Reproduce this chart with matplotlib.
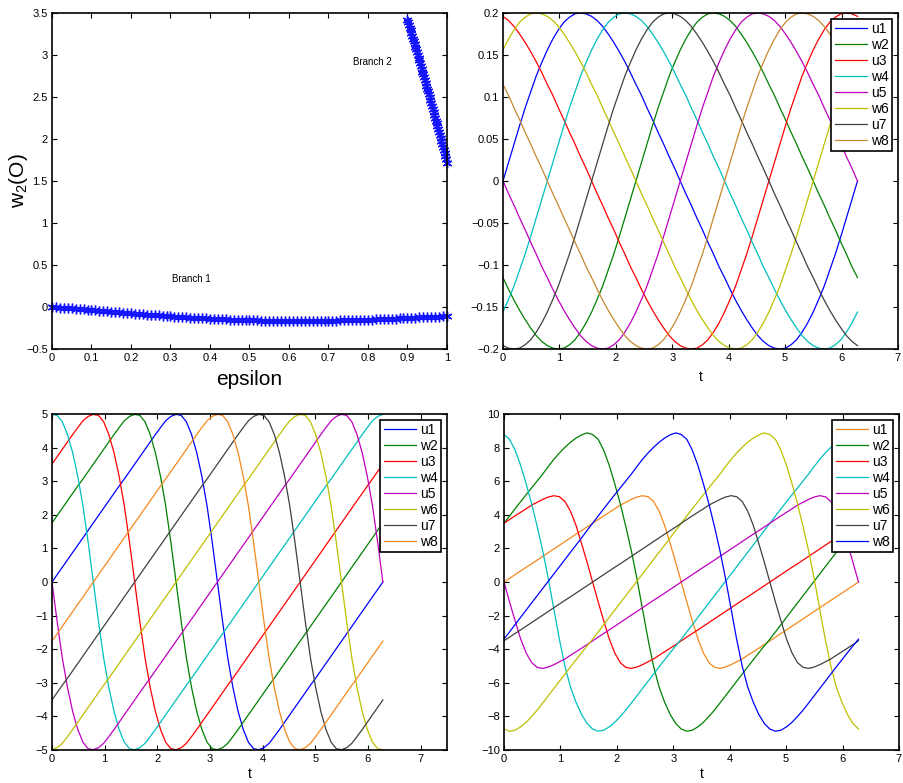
import numpy as np
import matplotlib
matplotlib.use('Agg')
import matplotlib.pyplot as plt
from matplotlib import font_manager

names = set(f.name for f in font_manager.fontManager.ttflist)
FONT = 'Liberation Sans Narrow' if 'Liberation Sans Narrow' in names else 'Liberation Sans'
plt.rcParams['font.family'] = [FONT, 'DejaVu Sans']
plt.rcParams['mathtext.default'] = 'regular'

# ---- top left: w2(0) against epsilon, two branches
eps1 = [0.00, 0.01, 0.02, 0.03, 0.04, 0.05, 0.06, 0.07, 0.08, 0.09,
        0.10, 0.11, 0.12, 0.13, 0.14, 0.15, 0.16, 0.17, 0.18, 0.19,
        0.20, 0.21, 0.22, 0.23, 0.24, 0.25, 0.26, 0.27, 0.28, 0.29,
        0.30, 0.31, 0.32, 0.33, 0.34, 0.35, 0.36, 0.37, 0.38, 0.39,
        0.40, 0.41, 0.42, 0.43, 0.44, 0.45, 0.46, 0.47, 0.48, 0.49,
        0.50, 0.51, 0.52, 0.53, 0.54, 0.55, 0.56, 0.57, 0.58, 0.59,
        0.60, 0.61, 0.62, 0.63, 0.64, 0.65, 0.66, 0.67, 0.68, 0.69,
        0.70, 0.71, 0.72, 0.73, 0.74, 0.75, 0.76, 0.77, 0.78, 0.79,
        0.80, 0.81, 0.82, 0.83, 0.84, 0.85, 0.86, 0.87, 0.88, 0.89,
        0.90, 0.91, 0.92, 0.93, 0.94, 0.95, 0.96, 0.97, 0.98, 0.99, 1.00]
branch1 = [0.000, -0.004, -0.007, -0.011, -0.014, -0.018, -0.022, -0.025, -0.029, -0.032,
           -0.036, -0.040, -0.044, -0.048, -0.052, -0.056, -0.060, -0.064, -0.067, -0.071,
           -0.075, -0.079, -0.083, -0.087, -0.090, -0.094, -0.097, -0.101, -0.104, -0.108,
           -0.111, -0.114, -0.117, -0.120, -0.123, -0.126, -0.129, -0.131, -0.134, -0.136,
           -0.139, -0.141, -0.143, -0.146, -0.148, -0.150, -0.152, -0.153, -0.155, -0.156,
           -0.158, -0.159, -0.160, -0.161, -0.162, -0.163, -0.164, -0.165, -0.165, -0.166,
           -0.166, -0.166, -0.166, -0.166, -0.166, -0.166, -0.166, -0.165, -0.165, -0.164,
           -0.163, -0.162, -0.161, -0.160, -0.159, -0.158, -0.157, -0.155, -0.154, -0.152,
           -0.151, -0.149, -0.147, -0.146, -0.144, -0.142, -0.140, -0.138, -0.136, -0.134,
           -0.132, -0.130, -0.128, -0.125, -0.123, -0.121, -0.119, -0.116, -0.114, -0.111, -0.109]

eps2 = [0.900, 0.902, 0.904, 0.906, 0.908, 0.910, 0.912, 0.914, 0.916, 0.918,
        0.920, 0.922, 0.924, 0.926, 0.928, 0.930, 0.932, 0.934, 0.936, 0.938,
        0.940, 0.942, 0.944, 0.946, 0.948, 0.950, 0.952, 0.954, 0.956, 0.958,
        0.960, 0.962, 0.964, 0.966, 0.968, 0.970, 0.972, 0.974, 0.976, 0.978,
        0.980, 0.982, 0.984, 0.986, 0.988, 0.990, 0.992, 0.994, 0.996, 0.998, 1.000]
branch2 = [3.420, 3.388, 3.357, 3.325, 3.293, 3.261, 3.229, 3.196, 3.164, 3.132,
           3.099, 3.067, 3.034, 3.001, 2.968, 2.935, 2.902, 2.869, 2.836, 2.802,
           2.769, 2.735, 2.702, 2.668, 2.634, 2.600, 2.566, 2.532, 2.498, 2.463,
           2.429, 2.394, 2.360, 2.325, 2.290, 2.255, 2.220, 2.185, 2.150, 2.115,
           2.079, 2.044, 2.008, 1.972, 1.937, 1.901, 1.865, 1.829, 1.793, 1.756, 1.720]

# ---- time samples over one period, shared by the three other panels
t = [0.0000, 0.0982, 0.1963, 0.2945, 0.3927, 0.4909, 0.5890, 0.6872,
     0.7854, 0.8836, 0.9817, 1.0799, 1.1781, 1.2763, 1.3744, 1.4726,
     1.5708, 1.6690, 1.7671, 1.8653, 1.9635, 2.0617, 2.1598, 2.2580,
     2.3562, 2.4544, 2.5525, 2.6507, 2.7489, 2.8471, 2.9452, 3.0434,
     3.1416, 3.2398, 3.3379, 3.4361, 3.5343, 3.6325, 3.7306, 3.8288,
     3.9270, 4.0252, 4.1233, 4.2215, 4.3197, 4.4179, 4.5160, 4.6142,
     4.7124, 4.8106, 4.9087, 5.0069, 5.1051, 5.2033, 5.3014, 5.3996,
     5.4978, 5.5960, 5.6941, 5.7923, 5.8905, 5.9887, 6.0868, 6.1850,
     6.2832]

# ---- top right
tr_u1 = [0.000, 0.022, 0.044, 0.066, 0.087, 0.106, 0.125, 0.141,
         0.156, 0.169, 0.180, 0.189, 0.195, 0.199, 0.200, 0.199,
         0.196, 0.191, 0.184, 0.175, 0.165, 0.154, 0.142, 0.129,
         0.115, 0.102, 0.087, 0.073, 0.058, 0.044, 0.029, 0.015,
         0.000, -0.015, -0.029, -0.044, -0.058, -0.073, -0.087, -0.102,
         -0.115, -0.129, -0.142, -0.154, -0.165, -0.175, -0.184, -0.191,
         -0.196, -0.199, -0.200, -0.199, -0.195, -0.189, -0.180, -0.169,
         -0.156, -0.141, -0.125, -0.106, -0.087, -0.066, -0.044, -0.022,
         0.000]
tr_w2 = [-0.115, -0.129, -0.142, -0.154, -0.165, -0.175, -0.184, -0.191,
         -0.196, -0.199, -0.200, -0.199, -0.195, -0.189, -0.180, -0.169,
         -0.156, -0.141, -0.125, -0.106, -0.087, -0.066, -0.044, -0.022,
         0.000, 0.022, 0.044, 0.066, 0.087, 0.106, 0.125, 0.141,
         0.156, 0.169, 0.180, 0.189, 0.195, 0.199, 0.200, 0.199,
         0.196, 0.191, 0.184, 0.175, 0.165, 0.154, 0.142, 0.129,
         0.115, 0.102, 0.087, 0.073, 0.058, 0.044, 0.029, 0.015,
         0.000, -0.015, -0.029, -0.044, -0.058, -0.073, -0.087, -0.102,
         -0.115]
tr_u3 = [0.196, 0.191, 0.184, 0.175, 0.165, 0.154, 0.142, 0.129,
         0.115, 0.102, 0.087, 0.073, 0.058, 0.044, 0.029, 0.015,
         0.000, -0.015, -0.029, -0.044, -0.058, -0.073, -0.087, -0.102,
         -0.115, -0.129, -0.142, -0.154, -0.165, -0.175, -0.184, -0.191,
         -0.196, -0.199, -0.200, -0.199, -0.195, -0.189, -0.180, -0.169,
         -0.156, -0.141, -0.125, -0.106, -0.087, -0.066, -0.044, -0.022,
         0.000, 0.022, 0.044, 0.066, 0.087, 0.106, 0.125, 0.141,
         0.156, 0.169, 0.180, 0.189, 0.195, 0.199, 0.200, 0.199,
         0.196]
tr_w4 = [-0.156, -0.141, -0.125, -0.106, -0.087, -0.066, -0.044, -0.022,
         0.000, 0.022, 0.044, 0.066, 0.087, 0.106, 0.125, 0.141,
         0.156, 0.169, 0.180, 0.189, 0.195, 0.199, 0.200, 0.199,
         0.196, 0.191, 0.184, 0.175, 0.165, 0.154, 0.142, 0.129,
         0.115, 0.102, 0.087, 0.073, 0.058, 0.044, 0.029, 0.015,
         0.000, -0.015, -0.029, -0.044, -0.058, -0.073, -0.087, -0.102,
         -0.115, -0.129, -0.142, -0.154, -0.165, -0.175, -0.184, -0.191,
         -0.196, -0.199, -0.200, -0.199, -0.195, -0.189, -0.180, -0.169,
         -0.156]
tr_u5 = [0.000, -0.015, -0.029, -0.044, -0.058, -0.073, -0.087, -0.102,
         -0.115, -0.129, -0.142, -0.154, -0.165, -0.175, -0.184, -0.191,
         -0.196, -0.199, -0.200, -0.199, -0.195, -0.189, -0.180, -0.169,
         -0.156, -0.141, -0.125, -0.106, -0.087, -0.066, -0.044, -0.022,
         0.000, 0.022, 0.044, 0.066, 0.087, 0.106, 0.125, 0.141,
         0.156, 0.169, 0.180, 0.189, 0.195, 0.199, 0.200, 0.199,
         0.196, 0.191, 0.184, 0.175, 0.165, 0.154, 0.142, 0.129,
         0.115, 0.102, 0.087, 0.073, 0.058, 0.044, 0.029, 0.015,
         0.000]
tr_w6 = [0.156, 0.169, 0.180, 0.189, 0.195, 0.199, 0.200, 0.199,
         0.196, 0.191, 0.184, 0.175, 0.165, 0.154, 0.142, 0.129,
         0.115, 0.102, 0.087, 0.073, 0.058, 0.044, 0.029, 0.015,
         0.000, -0.015, -0.029, -0.044, -0.058, -0.073, -0.087, -0.102,
         -0.115, -0.129, -0.142, -0.154, -0.165, -0.175, -0.184, -0.191,
         -0.196, -0.199, -0.200, -0.199, -0.195, -0.189, -0.180, -0.169,
         -0.156, -0.141, -0.125, -0.106, -0.087, -0.066, -0.044, -0.022,
         0.000, 0.022, 0.044, 0.066, 0.087, 0.106, 0.125, 0.141,
         0.156]
tr_u7 = [-0.196, -0.199, -0.200, -0.199, -0.195, -0.189, -0.180, -0.169,
         -0.156, -0.141, -0.125, -0.106, -0.087, -0.066, -0.044, -0.022,
         0.000, 0.022, 0.044, 0.066, 0.087, 0.106, 0.125, 0.141,
         0.156, 0.169, 0.180, 0.189, 0.195, 0.199, 0.200, 0.199,
         0.196, 0.191, 0.184, 0.175, 0.165, 0.154, 0.142, 0.129,
         0.115, 0.102, 0.087, 0.073, 0.058, 0.044, 0.029, 0.015,
         0.000, -0.015, -0.029, -0.044, -0.058, -0.073, -0.087, -0.102,
         -0.115, -0.129, -0.142, -0.154, -0.165, -0.175, -0.184, -0.191,
         -0.196]
tr_w8 = [0.115, 0.102, 0.087, 0.073, 0.058, 0.044, 0.029, 0.015,
         0.000, -0.015, -0.029, -0.044, -0.058, -0.073, -0.087, -0.102,
         -0.115, -0.129, -0.142, -0.154, -0.165, -0.175, -0.184, -0.191,
         -0.196, -0.199, -0.200, -0.199, -0.195, -0.189, -0.180, -0.169,
         -0.156, -0.141, -0.125, -0.106, -0.087, -0.066, -0.044, -0.022,
         0.000, 0.022, 0.044, 0.066, 0.087, 0.106, 0.125, 0.141,
         0.156, 0.169, 0.180, 0.189, 0.195, 0.199, 0.200, 0.199,
         0.196, 0.191, 0.184, 0.175, 0.165, 0.154, 0.142, 0.129,
         0.115]

# ---- bottom left
bl_u1 = [0.00, 0.22, 0.44, 0.66, 0.88, 1.10, 1.32, 1.54,
         1.76, 1.98, 2.20, 2.42, 2.64, 2.86, 3.07, 3.29,
         3.51, 3.73, 3.95, 4.17, 4.39, 4.60, 4.80, 4.93,
         4.99, 4.96, 4.77, 4.39, 3.85, 3.14, 2.26, 1.18,
         0.00, -1.18, -2.26, -3.14, -3.85, -4.39, -4.77, -4.96,
         -4.99, -4.93, -4.80, -4.60, -4.39, -4.17, -3.95, -3.73,
         -3.51, -3.29, -3.07, -2.86, -2.64, -2.42, -2.20, -1.98,
         -1.76, -1.54, -1.32, -1.10, -0.88, -0.66, -0.44, -0.22,
         0.00]
bl_w2 = [1.76, 1.98, 2.20, 2.42, 2.64, 2.86, 3.07, 3.29,
         3.51, 3.73, 3.95, 4.17, 4.39, 4.60, 4.80, 4.93,
         4.99, 4.96, 4.77, 4.39, 3.85, 3.14, 2.26, 1.18,
         0.00, -1.18, -2.26, -3.14, -3.85, -4.39, -4.77, -4.96,
         -4.99, -4.93, -4.80, -4.60, -4.39, -4.17, -3.95, -3.73,
         -3.51, -3.29, -3.07, -2.86, -2.64, -2.42, -2.20, -1.98,
         -1.76, -1.54, -1.32, -1.10, -0.88, -0.66, -0.44, -0.22,
         0.00, 0.22, 0.44, 0.66, 0.88, 1.10, 1.32, 1.54,
         1.76]
bl_u3 = [3.51, 3.73, 3.95, 4.17, 4.39, 4.60, 4.80, 4.93,
         4.99, 4.96, 4.77, 4.39, 3.85, 3.14, 2.26, 1.18,
         0.00, -1.18, -2.26, -3.14, -3.85, -4.39, -4.77, -4.96,
         -4.99, -4.93, -4.80, -4.60, -4.39, -4.17, -3.95, -3.73,
         -3.51, -3.29, -3.07, -2.86, -2.64, -2.42, -2.20, -1.98,
         -1.76, -1.54, -1.32, -1.10, -0.88, -0.66, -0.44, -0.22,
         0.00, 0.22, 0.44, 0.66, 0.88, 1.10, 1.32, 1.54,
         1.76, 1.98, 2.20, 2.42, 2.64, 2.86, 3.07, 3.29,
         3.51]
bl_w4 = [4.99, 4.96, 4.77, 4.39, 3.85, 3.14, 2.26, 1.18,
         0.00, -1.18, -2.26, -3.14, -3.85, -4.39, -4.77, -4.96,
         -4.99, -4.93, -4.80, -4.60, -4.39, -4.17, -3.95, -3.73,
         -3.51, -3.29, -3.07, -2.86, -2.64, -2.42, -2.20, -1.98,
         -1.76, -1.54, -1.32, -1.10, -0.88, -0.66, -0.44, -0.22,
         0.00, 0.22, 0.44, 0.66, 0.88, 1.10, 1.32, 1.54,
         1.76, 1.98, 2.20, 2.42, 2.64, 2.86, 3.07, 3.29,
         3.51, 3.73, 3.95, 4.17, 4.39, 4.60, 4.80, 4.93,
         4.99]
bl_u5 = [0.00, -1.18, -2.26, -3.14, -3.85, -4.39, -4.77, -4.96,
         -4.99, -4.93, -4.80, -4.60, -4.39, -4.17, -3.95, -3.73,
         -3.51, -3.29, -3.07, -2.86, -2.64, -2.42, -2.20, -1.98,
         -1.76, -1.54, -1.32, -1.10, -0.88, -0.66, -0.44, -0.22,
         0.00, 0.22, 0.44, 0.66, 0.88, 1.10, 1.32, 1.54,
         1.76, 1.98, 2.20, 2.42, 2.64, 2.86, 3.07, 3.29,
         3.51, 3.73, 3.95, 4.17, 4.39, 4.60, 4.80, 4.93,
         4.99, 4.96, 4.77, 4.39, 3.85, 3.14, 2.26, 1.18,
         0.00]
bl_w6 = [-4.99, -4.93, -4.80, -4.60, -4.39, -4.17, -3.95, -3.73,
         -3.51, -3.29, -3.07, -2.86, -2.64, -2.42, -2.20, -1.98,
         -1.76, -1.54, -1.32, -1.10, -0.88, -0.66, -0.44, -0.22,
         0.00, 0.22, 0.44, 0.66, 0.88, 1.10, 1.32, 1.54,
         1.76, 1.98, 2.20, 2.42, 2.64, 2.86, 3.07, 3.29,
         3.51, 3.73, 3.95, 4.17, 4.39, 4.60, 4.80, 4.93,
         4.99, 4.96, 4.77, 4.39, 3.85, 3.14, 2.26, 1.18,
         0.00, -1.18, -2.26, -3.14, -3.85, -4.39, -4.77, -4.96,
         -4.99]
bl_u7 = [-3.51, -3.29, -3.07, -2.86, -2.64, -2.42, -2.20, -1.98,
         -1.76, -1.54, -1.32, -1.10, -0.88, -0.66, -0.44, -0.22,
         0.00, 0.22, 0.44, 0.66, 0.88, 1.10, 1.32, 1.54,
         1.76, 1.98, 2.20, 2.42, 2.64, 2.86, 3.07, 3.29,
         3.51, 3.73, 3.95, 4.17, 4.39, 4.60, 4.80, 4.93,
         4.99, 4.96, 4.77, 4.39, 3.85, 3.14, 2.26, 1.18,
         0.00, -1.18, -2.26, -3.14, -3.85, -4.39, -4.77, -4.96,
         -4.99, -4.93, -4.80, -4.60, -4.39, -4.17, -3.95, -3.73,
         -3.51]
bl_w8 = [-1.76, -1.54, -1.32, -1.10, -0.88, -0.66, -0.44, -0.22,
         0.00, 0.22, 0.44, 0.66, 0.88, 1.10, 1.32, 1.54,
         1.76, 1.98, 2.20, 2.42, 2.64, 2.86, 3.07, 3.29,
         3.51, 3.73, 3.95, 4.17, 4.39, 4.60, 4.80, 4.93,
         4.99, 4.96, 4.77, 4.39, 3.85, 3.14, 2.26, 1.18,
         0.00, -1.18, -2.26, -3.14, -3.85, -4.39, -4.77, -4.96,
         -4.99, -4.93, -4.80, -4.60, -4.39, -4.17, -3.95, -3.73,
         -3.51, -3.29, -3.07, -2.86, -2.64, -2.42, -2.20, -1.98,
         -1.76]

# ---- bottom right
br_u1 = [0.00, 0.22, 0.44, 0.66, 0.88, 1.09, 1.31, 1.53,
         1.75, 1.97, 2.19, 2.41, 2.63, 2.85, 3.06, 3.28,
         3.50, 3.72, 3.94, 4.15, 4.36, 4.58, 4.75, 4.92,
         5.06, 5.14, 5.08, 4.80, 4.22, 3.38, 2.30, 1.18,
         0.00, -1.18, -2.30, -3.38, -4.22, -4.80, -5.08, -5.14,
         -5.06, -4.92, -4.75, -4.58, -4.36, -4.15, -3.94, -3.72,
         -3.50, -3.28, -3.06, -2.85, -2.63, -2.41, -2.19, -1.97,
         -1.75, -1.53, -1.31, -1.09, -0.88, -0.66, -0.44, -0.22,
         0.00]
br_u3 = [3.50, 3.72, 3.94, 4.15, 4.36, 4.58, 4.75, 4.92,
         5.06, 5.14, 5.08, 4.80, 4.22, 3.38, 2.30, 1.18,
         0.00, -1.18, -2.30, -3.38, -4.22, -4.80, -5.08, -5.14,
         -5.06, -4.92, -4.75, -4.58, -4.36, -4.15, -3.94, -3.72,
         -3.50, -3.28, -3.06, -2.85, -2.63, -2.41, -2.19, -1.97,
         -1.75, -1.53, -1.31, -1.09, -0.88, -0.66, -0.44, -0.22,
         0.00, 0.22, 0.44, 0.66, 0.88, 1.09, 1.31, 1.53,
         1.75, 1.97, 2.19, 2.41, 2.63, 2.85, 3.06, 3.28,
         3.50]
br_u5 = [0.00, -1.18, -2.30, -3.38, -4.22, -4.80, -5.08, -5.14,
         -5.06, -4.92, -4.75, -4.58, -4.36, -4.15, -3.94, -3.72,
         -3.50, -3.28, -3.06, -2.85, -2.63, -2.41, -2.19, -1.97,
         -1.75, -1.53, -1.31, -1.09, -0.88, -0.66, -0.44, -0.22,
         0.00, 0.22, 0.44, 0.66, 0.88, 1.09, 1.31, 1.53,
         1.75, 1.97, 2.19, 2.41, 2.63, 2.85, 3.06, 3.28,
         3.50, 3.72, 3.94, 4.15, 4.36, 4.58, 4.75, 4.92,
         5.06, 5.14, 5.08, 4.80, 4.22, 3.38, 2.30, 1.18,
         0.00]
br_u7 = [-3.50, -3.28, -3.06, -2.85, -2.63, -2.41, -2.19, -1.97,
         -1.75, -1.53, -1.31, -1.09, -0.88, -0.66, -0.44, -0.22,
         0.00, 0.22, 0.44, 0.66, 0.88, 1.09, 1.31, 1.53,
         1.75, 1.97, 2.19, 2.41, 2.63, 2.85, 3.06, 3.28,
         3.50, 3.72, 3.94, 4.15, 4.36, 4.58, 4.75, 4.92,
         5.06, 5.14, 5.08, 4.80, 4.22, 3.38, 2.30, 1.18,
         0.00, -1.18, -2.30, -3.38, -4.22, -4.80, -5.08, -5.14,
         -5.06, -4.92, -4.75, -4.58, -4.36, -4.15, -3.94, -3.72,
         -3.50]
br_w8 = [-3.40, -2.97, -2.54, -2.10, -1.67, -1.24, -0.81, -0.38,
         0.05, 0.48, 0.91, 1.34, 1.77, 2.20, 2.63, 3.07,
         3.50, 3.93, 4.36, 4.78, 5.20, 5.61, 6.02, 6.43,
         6.88, 7.30, 7.68, 8.02, 8.32, 8.57, 8.76, 8.88,
         8.78, 8.50, 7.85, 6.95, 5.85, 4.65, 3.30, 1.85,
         0.20, -1.60, -3.40, -5.00, -6.25, -7.15, -7.88, -8.42,
         -8.75, -8.88, -8.82, -8.62, -8.35, -8.00, -7.62, -7.20,
         -6.77, -6.34, -5.91, -5.48, -5.05, -4.63, -4.21, -3.80,
         -3.40]
br_w2 = [3.50, 3.93, 4.36, 4.78, 5.20, 5.61, 6.02, 6.43,
         6.88, 7.30, 7.68, 8.02, 8.32, 8.57, 8.76, 8.88,
         8.78, 8.50, 7.85, 6.95, 5.85, 4.65, 3.30, 1.85,
         0.20, -1.60, -3.40, -5.00, -6.25, -7.15, -7.88, -8.42,
         -8.75, -8.88, -8.82, -8.62, -8.35, -8.00, -7.62, -7.20,
         -6.77, -6.34, -5.91, -5.48, -5.05, -4.63, -4.21, -3.80,
         -3.40, -2.97, -2.54, -2.10, -1.67, -1.24, -0.81, -0.38,
         0.05, 0.48, 0.91, 1.34, 1.77, 2.20, 2.63, 3.07,
         3.50]
br_w4 = [8.78, 8.50, 7.85, 6.95, 5.85, 4.65, 3.30, 1.85,
         0.20, -1.60, -3.40, -5.00, -6.25, -7.15, -7.88, -8.42,
         -8.75, -8.88, -8.82, -8.62, -8.35, -8.00, -7.62, -7.20,
         -6.77, -6.34, -5.91, -5.48, -5.05, -4.63, -4.21, -3.80,
         -3.40, -2.97, -2.54, -2.10, -1.67, -1.24, -0.81, -0.38,
         0.05, 0.48, 0.91, 1.34, 1.77, 2.20, 2.63, 3.07,
         3.50, 3.93, 4.36, 4.78, 5.20, 5.61, 6.02, 6.43,
         6.88, 7.30, 7.68, 8.02, 8.32, 8.57, 8.76, 8.88,
         8.78]
br_w6 = [-8.75, -8.88, -8.82, -8.62, -8.35, -8.00, -7.62, -7.20,
         -6.77, -6.34, -5.91, -5.48, -5.05, -4.63, -4.21, -3.80,
         -3.40, -2.97, -2.54, -2.10, -1.67, -1.24, -0.81, -0.38,
         0.05, 0.48, 0.91, 1.34, 1.77, 2.20, 2.63, 3.07,
         3.50, 3.93, 4.36, 4.78, 5.20, 5.61, 6.02, 6.43,
         6.88, 7.30, 7.68, 8.02, 8.32, 8.57, 8.76, 8.88,
         8.78, 8.50, 7.85, 6.95, 5.85, 4.65, 3.30, 1.85,
         0.20, -1.60, -3.40, -5.00, -6.25, -7.15, -7.88, -8.42,
         -8.75]

names8 = ['u1', 'w2', 'u3', 'w4', 'u5', 'w6', 'u7', 'w8']

BLUE = (0, 0, 1)
GREEN = (0, 0.5, 0)
RED = (1, 0, 0)
CYAN = (0, 0.75, 0.75)
MAGENTA = (0.75, 0, 0.75)
YELLOW = (0.75, 0.75, 0)
GREY = (0.25, 0.25, 0.25)
BROWN = '#c8882e'
ORANGE = '#f5891c'


def fmt(v):
    s = '%g' % v
    if s == '-0':
        s = '0'
    return s.replace('-', '\u2212')


def style(ax, xlim, ylim, xticks, yticks):
    ax.set_xlim(xlim)
    ax.set_ylim(ylim)
    ax.set_xticks(xticks)
    ax.set_yticks(yticks)
    ax.set_xticklabels([fmt(v) for v in xticks])
    ax.set_yticklabels([fmt(v) for v in yticks])
    ax.tick_params(direction='in', top=True, right=True, length=3.5, width=0.8,
                   labelsize=8, pad=3)
    for s in ax.spines.values():
        s.set_linewidth(1.2)


def add_legend(ax):
    leg = ax.legend(loc='upper right', fontsize=10, handlelength=2.3, handletextpad=0.3,
                    labelspacing=0.14, borderpad=0.25, borderaxespad=0.42,
                    fancybox=False, framealpha=1, edgecolor='black')
    leg.get_frame().set_linewidth(1.2)


fig = plt.figure(figsize=(9.04, 7.83), dpi=100)
ax_tl = fig.add_axes([0.0575, 0.5543, 0.4369, 0.4291])
ax_tr = fig.add_axes([0.5564, 0.5543, 0.4369, 0.4291])
ax_bl = fig.add_axes([0.0575, 0.0421, 0.4369, 0.4291])
ax_br = fig.add_axes([0.5575, 0.0421, 0.4369, 0.4291])

# top left
star = (6, 2, 0)
ax_tl.plot(eps1, branch1, linestyle='none', marker=star, ms=7, mew=1.0, color='#1414ff', clip_on=False)
ax_tl.plot(eps2, branch2, linestyle='none', marker=star, ms=7, mew=1.0, color='#1414ff', clip_on=False)
ax_tl.text(0.305, 0.33, 'Branch 1', fontsize=7, va='center')
ax_tl.text(0.762, 2.92, 'Branch 2', fontsize=7, va='center')
style(ax_tl, (0, 1), (-0.5, 3.5),
      [0, 0.1, 0.2, 0.3, 0.4, 0.5, 0.6, 0.7, 0.8, 0.9, 1],
      [-0.5, 0, 0.5, 1, 1.5, 2, 2.5, 3, 3.5])
ax_tl.set_xlabel('epsilon', fontsize=15, labelpad=5)
ax_tl.set_ylabel(r'w$_2$(O)', fontsize=15, labelpad=-3)

# top right
tr_series = [tr_u1, tr_w2, tr_u3, tr_w4, tr_u5, tr_w6, tr_u7, tr_w8]
tr_colors = [BLUE, GREEN, RED, CYAN, MAGENTA, YELLOW, GREY, BROWN]
for name, y, c in zip(names8, tr_series, tr_colors):
    ax_tr.plot(t, y, color=c, lw=0.9, label=name)
style(ax_tr, (0, 7), (-0.2, 0.2), [0, 1, 2, 3, 4, 5, 6, 7],
      [-0.2, -0.15, -0.1, -0.05, 0, 0.05, 0.1, 0.15, 0.2])
ax_tr.set_xlabel('t', fontsize=10, labelpad=5)
add_legend(ax_tr)

# bottom left
bl_series = [bl_u1, bl_w2, bl_u3, bl_w4, bl_u5, bl_w6, bl_u7, bl_w8]
bl_colors = [BLUE, GREEN, RED, CYAN, MAGENTA, YELLOW, GREY, ORANGE]
for name, y, c in zip(names8, bl_series, bl_colors):
    ax_bl.plot(t, y, color=c, lw=0.9, label=name)
style(ax_bl, (0, 7.5), (-5, 5), [0, 1, 2, 3, 4, 5, 6, 7],
      [-5, -4, -3, -2, -1, 0, 1, 2, 3, 4, 5])
ax_bl.set_xlabel('t', fontsize=10, labelpad=2)
add_legend(ax_bl)

# bottom right
br_series = [br_u1, br_w2, br_u3, br_w4, br_u5, br_w6, br_u7, br_w8]
br_colors = [ORANGE, GREEN, RED, CYAN, MAGENTA, YELLOW, GREY, BLUE]
for name, y, c in zip(names8, br_series, br_colors):
    ax_br.plot(t, y, color=c, lw=0.9, label=name)
style(ax_br, (0, 7), (-10, 10), [0, 1, 2, 3, 4, 5, 6, 7],
      [-10, -8, -6, -4, -2, 0, 2, 4, 6, 8, 10])
ax_br.set_xlabel('t', fontsize=10, labelpad=2)
add_legend(ax_br)

plt.savefig('out.png', dpi=100)
